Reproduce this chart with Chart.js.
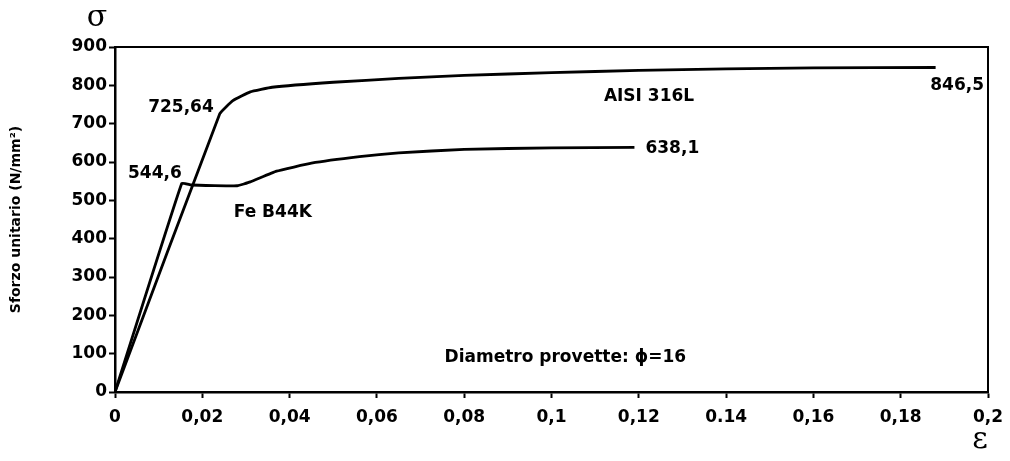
<!DOCTYPE html>
<html>
<head>
<meta charset="utf-8">
<script src="https://cdn.jsdelivr.net/npm/chart.js@4.4.1/dist/chart.umd.min.js"></script>
<style>
    html, body { margin: 0; padding: 0; background: #fff; }
</style>
</head>
<body>
<canvas id="main-graph" width="1010" height="461"></canvas>
<script>
// AISI 316L curve (strain, stress N/mm2)
const strainAisi = [0, 0.024, 0.027, 0.031, 0.036, 0.05, 0.065, 0.08, 0.1, 0.12, 0.14, 0.16, 0.188];
const stressAisi = [0, 725.64, 760, 783, 795, 808, 818, 826, 833, 839, 843, 845.5, 846.5];

// Fe B44K curve
const strainFe = [0, 0.0153, 0.0175, 0.028, 0.031, 0.037, 0.045, 0.056, 0.065, 0.08, 0.1, 0.119];
const stressFe = [0, 544.6, 540, 538, 548, 576, 597, 614, 624, 633, 637, 638.1];

// x axis ticks as printed (note the "0.14")
const xTickValues = [0, 0.02, 0.04, 0.06, 0.08, 0.1, 0.12, 0.14, 0.16, 0.18, 0.2];
const xTickLabels = ['0', '0,02', '0,04', '0,06', '0,08', '0,1', '0,12', '0.14', '0,16', '0,18', '0,2'];

const toPoints = (xs, ys) => xs.map((x, i) => ({ x: x, y: ys[i] }));

const boldFont = "bold 17px 'DejaVu Sans'";

// frame, greek symbols and the notes on the plot
const notesPlugin = {
    id: 'notes',
    afterDraw(chart) {
        const { ctx, chartArea, scales } = chart;
        const x = scales.x;
        const y = scales.y;
        const px = (v) => x.getPixelForValue(v);
        const py = (v) => y.getPixelForValue(v);

        ctx.save();
        ctx.strokeStyle = '#000';
        ctx.lineWidth = 2;
        ctx.beginPath();
        ctx.moveTo(chartArea.left, chartArea.top);
        ctx.lineTo(chartArea.right, chartArea.top);
        ctx.lineTo(chartArea.right, chartArea.bottom);
        ctx.stroke();

        ctx.fillStyle = '#000';
        ctx.font = boldFont;
        ctx.textBaseline = 'middle';

        // peak values
        ctx.textAlign = 'right';
        ctx.fillText('725,64', px(strainAisi[1]) - 6, py(stressAisi[1]) - 6);
        ctx.fillText('544,6', px(strainFe[1]), py(stressFe[1]) - 10);
        ctx.fillText('846,5', chartArea.right - 4, py(stressAisi[stressAisi.length - 1]) + 18);

        ctx.textAlign = 'left';
        ctx.fillText('638,1', px(strainFe[strainFe.length - 1]) + 11, py(stressFe[stressFe.length - 1]) + 1);

        // curve names
        ctx.fillText('AISI 316L', px(0.112), py(770));
        ctx.fillText('Fe B44K', px(0.0272), py(468));
        ctx.fillText('Diametro provette: \u03D5=16', px(0.0755), py(91));

        // axis symbols
        ctx.font = "30px 'DejaVu Serif'";
        ctx.textAlign = 'center';
        ctx.fillText('\u03C3', chartArea.left - 18, 18);
        ctx.fillText('\u03B5', chartArea.right - 8, 440);
        ctx.restore();
    },
};

const data = {
    datasets: [
        {
            label: 'AISI 316L',
            data: toPoints(strainAisi, stressAisi),
            borderColor: '#000',
            borderWidth: 2.8,
            pointRadius: 0,
            tension: 0.1,
        },
        {
            label: 'Fe B44K',
            data: toPoints(strainFe, stressFe),
            borderColor: '#000',
            borderWidth: 2.8,
            pointRadius: 0,
            tension: 0.1,
        },
    ],
};

const config = {
    type: 'line',
    data: data,
    options: {
        responsive: false,
        animation: false,
        layout: {
            padding: { top: 47, right: 22, left: 0, bottom: 0 },
        },
        plugins: {
            legend: { display: false },
            tooltip: { enabled: false },
        },
        scales: {
            x: {
                type: 'linear',
                min: 0,
                max: 0.2,
                afterBuildTicks: (scale) => {
                    scale.ticks = xTickValues.map((v) => ({ value: v }));
                },
                afterFit: (scale) => {
                    scale.height = 69;
                    scale.paddingLeft = 0;
                    scale.paddingRight = 0;
                },
                ticks: {
                    color: '#000',
                    font: { family: 'DejaVu Sans', size: 17, weight: 'bold' },
                    padding: 9,
                    maxRotation: 0,
                    callback: (value, index) => xTickLabels[index],
                },
                grid: {
                    drawOnChartArea: false,
                    color: '#000',
                    tickLength: 6,
                    tickWidth: 2,
                },
                border: { display: true, color: '#000', width: 2.5 },
            },
            y: {
                min: 0,
                max: 900,
                afterFit: (scale) => {
                    scale.width = 115;
                },
                ticks: {
                    stepSize: 100,
                    color: '#000',
                    font: { family: 'DejaVu Sans', size: 17, weight: 'bold' },
                    padding: 2,
                },
                grid: {
                    drawOnChartArea: false,
                    color: '#000',
                    tickLength: 6,
                    tickWidth: 2,
                },
                border: { display: true, color: '#000', width: 2.5 },
                title: {
                    display: true,
                    text: 'Sforzo unitario (N/mm\u00B2)',
                    color: '#000',
                    font: { family: 'DejaVu Sans', size: 14, weight: 'bold' },
                    padding: { top: 8, bottom: 0 },
                },
            },
        },
    },
    plugins: [notesPlugin],
};

const mainGraph = new Chart(document.getElementById('main-graph'), config);
</script>
</body>
</html>
